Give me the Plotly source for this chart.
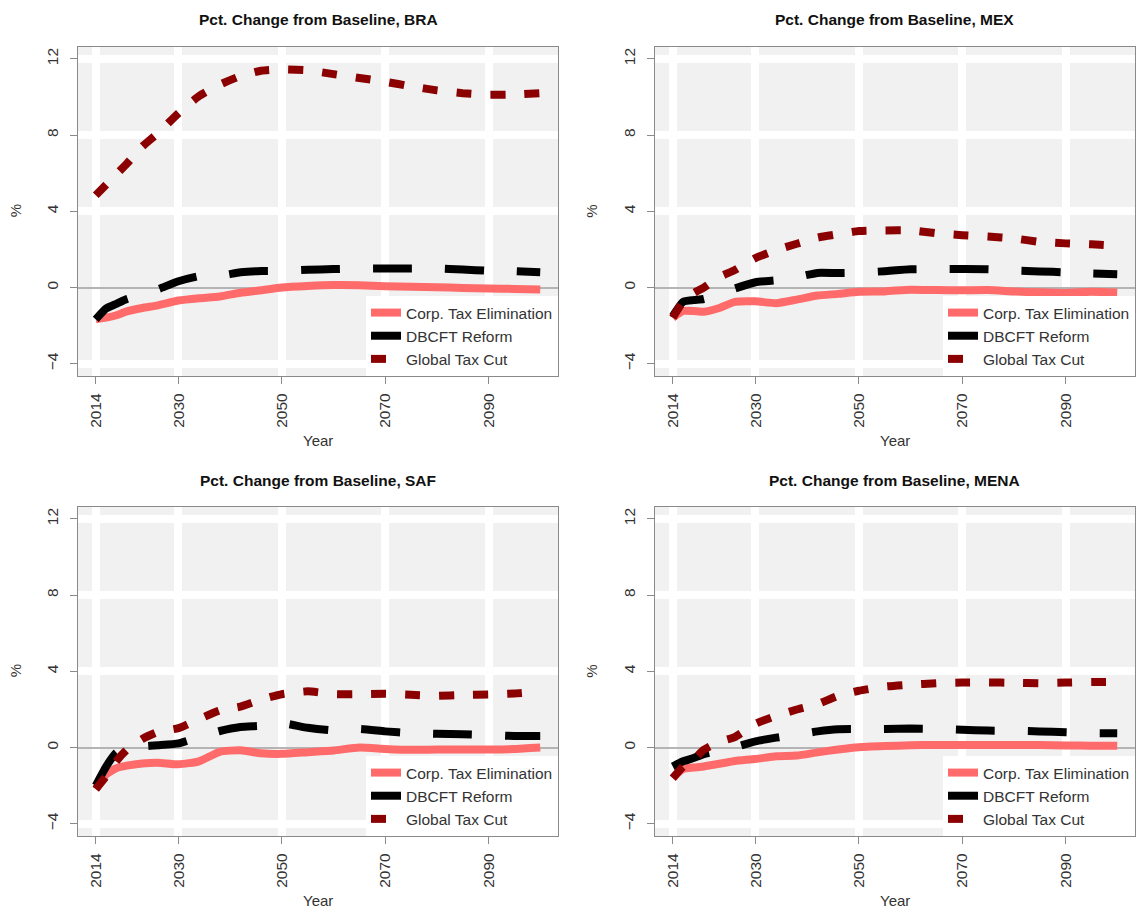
import plotly.graph_objects as go

# ---------------- data ----------------
years = [2014, 2016, 2018, 2020, 2023, 2026, 2030, 2034, 2038, 2042, 2046,
         2050, 2055, 2060, 2065, 2070, 2075, 2080, 2085, 2090, 2095, 2100]

bra_corp = [-1.67, -1.58, -1.45, -1.25, -1.07, -0.93, -0.68, -0.56, -0.47, -0.27, -0.14,
            0.00, 0.08, 0.13, 0.12, 0.07, 0.04, 0.02, -0.02, -0.05, -0.07, -0.10]
bra_dbcft = [-1.67, -1.10, -0.85, -0.60, -0.35, -0.09, 0.33, 0.60, 0.62, 0.80, 0.87,
             0.88, 0.93, 0.97, 0.99, 1.00, 1.00, 1.00, 0.95, 0.88, 0.86, 0.80]
bra_global = [4.84, 5.40, 5.95, 6.50, 7.40, 8.10, 9.15, 10.05, 10.65, 11.10, 11.38,
              11.45, 11.40, 11.20, 11.00, 10.80, 10.56, 10.35, 10.20, 10.12, 10.13, 10.20]

mex_corp = [-1.58, -1.23, -1.23, -1.27, -1.07, -0.75, -0.72, -0.82, -0.63, -0.42, -0.33,
            -0.22, -0.20, -0.11, -0.13, -0.14, -0.13, -0.20, -0.25, -0.28, -0.22, -0.26]
mex_dbcft = [-1.50, -0.75, -0.66, -0.60, -0.35, -0.05, 0.28, 0.38, 0.55, 0.77, 0.76,
             0.78, 0.86, 0.96, 0.97, 0.97, 0.96, 0.89, 0.85, 0.80, 0.74, 0.70]
mex_global = [-1.58, -0.72, -0.30, 0.00, 0.55, 0.92, 1.55, 1.97, 2.30, 2.62, 2.80,
              2.97, 3.00, 3.00, 2.85, 2.75, 2.68, 2.58, 2.40, 2.32, 2.27, 2.20]

saf_corp = [-2.18, -1.40, -1.08, -0.95, -0.84, -0.80, -0.88, -0.72, -0.22, -0.14, -0.30,
            -0.33, -0.24, -0.15, 0.00, -0.07, -0.12, -0.10, -0.10, -0.10, -0.08, 0.00]
saf_dbcft = [-2.00, -1.00, -0.26, -0.05, 0.06, 0.12, 0.22, 0.55, 0.87, 1.08, 1.14,
             1.28, 1.04, 0.90, 0.98, 0.85, 0.76, 0.72, 0.70, 0.66, 0.61, 0.61]
saf_global = [-2.18, -1.50, -0.70, -0.12, 0.45, 0.82, 1.02, 1.50, 1.95, 2.15, 2.52,
              2.80, 2.95, 2.80, 2.80, 2.82, 2.77, 2.72, 2.76, 2.79, 2.84, 2.95]

mena_corp = [-1.60, -1.12, -1.05, -0.99, -0.85, -0.70, -0.60, -0.45, -0.42, -0.25, -0.10,
             0.02, 0.08, 0.12, 0.14, 0.14, 0.14, 0.14, 0.13, 0.11, 0.10, 0.09]
mena_dbcft = [-0.99, -0.72, -0.55, -0.34, -0.15, 0.02, 0.33, 0.52, 0.68, 0.85, 0.96,
              0.97, 0.97, 1.00, 0.98, 0.93, 0.89, 0.88, 0.85, 0.80, 0.76, 0.75]
mena_global = [-1.60, -1.00, -0.65, -0.12, 0.30, 0.55, 1.25, 1.66, 2.00, 2.28, 2.72,
               2.98, 3.20, 3.30, 3.38, 3.41, 3.42, 3.40, 3.38, 3.41, 3.44, 3.44]

regions = ["BRA", "MEX", "SAF", "MENA"]
series_names = ["Corp. Tax Elimination", "DBCFT Reform", "Global Tax Cut"]
x_tick_vals = [2014, 2030, 2050, 2070, 2090]
y_tick_vals = [-4, 0, 4, 8, 12]
y_grid_vals = [-4, 4, 8, 12]

panel_data = [
    [bra_corp, bra_dbcft, bra_global],
    [mex_corp, mex_dbcft, mex_global],
    [saf_corp, saf_dbcft, saf_global],
    [mena_corp, mena_dbcft, mena_global],
]

# ---------------- styling ----------------
W, H = 1136, 911
FONT = "Liberation Sans, Arial, Helvetica, sans-serif"
TXT = "#333333"
series_styles = [
    dict(color="#ff6a6a", width=8, dash="solid"),
    dict(color="#000000", width=8, dash="39px,33px"),
    dict(color="#8b0000", width=8, dash="15px,19px"),
]
col_px = [(78, 558), (655, 1135)]
row_px = [(46.7, 376), (506.7, 836)]

fig = go.Figure()
layout = dict(
    width=W, height=H, autosize=False,
    margin=dict(l=0, r=0, t=0, b=0),
    paper_bgcolor="white", plot_bgcolor="#f1f1f1",
    font=dict(family=FONT, color=TXT, size=15),
    annotations=[],
)

for i, region in enumerate(regions):
    r, c = divmod(i, 2)
    sfx = "" if i == 0 else str(i + 1)
    xref, yref = "x" + sfx, "y" + sfx
    legname = "legend" + sfx
    x0, x1 = col_px[c]
    ytop, ybot = row_px[r]
    xdom = [x0 / W, x1 / W]
    ydom = [1 - ybot / H, 1 - ytop / H]

    for vals, name, st in zip(panel_data[i], series_names, series_styles):
        fig.add_trace(go.Scatter(
            x=years, y=vals, mode="lines", name=name,
            line=dict(color=st["color"], width=st["width"], dash=st["dash"],
                      shape="spline", smoothing=0.5),
            xaxis=xref, yaxis=yref, legend=legname, showlegend=True,
            hoverinfo="skip",
        ))

    layout["xaxis" + sfx] = dict(
        domain=xdom, anchor=yref, range=[2010.56, 2103.44],
        tickmode="array", tickvals=x_tick_vals, tickangle=-90,
        showgrid=True, gridcolor="white", gridwidth=8, zeroline=False,
        showline=True, mirror=True, linecolor="#8a8a8a", linewidth=1.3,
        ticks="outside", ticklen=7, tickcolor="#8a8a8a", tickwidth=1,
        tickfont=dict(size=15.5, color=TXT), ticklabelstandoff=3,
        fixedrange=True,
    )
    layout["yaxis" + sfx] = dict(
        domain=ydom, anchor=xref, range=[-4.64, 12.64],
        tickmode="array", tickvals=y_tick_vals, tickangle=-90,
        showgrid=False,
        minor=dict(tickmode="array", tickvals=y_grid_vals, showgrid=True,
                   gridcolor="white", gridwidth=8, ticks=""),
        zeroline=True, zerolinecolor="#b4b4b4", zerolinewidth=1.6,
        showline=True, mirror=True, linecolor="#8a8a8a", linewidth=1.3,
        ticks="outside", ticklen=7, tickcolor="#8a8a8a", tickwidth=1,
        tickfont=dict(size=15.5, color=TXT), ticklabelstandoff=6,
        fixedrange=True,
    )
    layout[legname] = dict(
        x=xdom[1], y=ydom[0], xanchor="right", yanchor="bottom",
        bgcolor="white", borderwidth=0, font=dict(size=15.5, color=TXT),
        tracegroupgap=0, itemwidth=30,
    )
    xc = (xdom[0] + xdom[1]) / 2
    layout["annotations"] += [
        dict(text="<b>Pct. Change from Baseline, %s</b>" % region, xref="paper", yref="paper",
             x=xc, y=1 - (20 if r == 0 else 480) / H, xanchor="center", yanchor="middle",
             showarrow=False, font=dict(size=15.5, color="#111111")),
        dict(text="Year", xref="paper", yref="paper",
             x=xc, y=1 - (440 if r == 0 else 900) / H, xanchor="center", yanchor="middle",
             showarrow=False, font=dict(size=15, color=TXT)),
        dict(text="%", xref="paper", yref="paper", textangle=-90,
             x=(15 if c == 0 else 591.5) / W, y=(ydom[0] + ydom[1]) / 2,
             xanchor="center", yanchor="middle",
             showarrow=False, font=dict(size=15, color=TXT)),
    ]

fig.update_layout(**layout)
fig.write_html(
    "out.html",
    config={"displayModeBar": False},
    post_script="document.body.style.margin='0';document.body.style.overflow='hidden';",
)
